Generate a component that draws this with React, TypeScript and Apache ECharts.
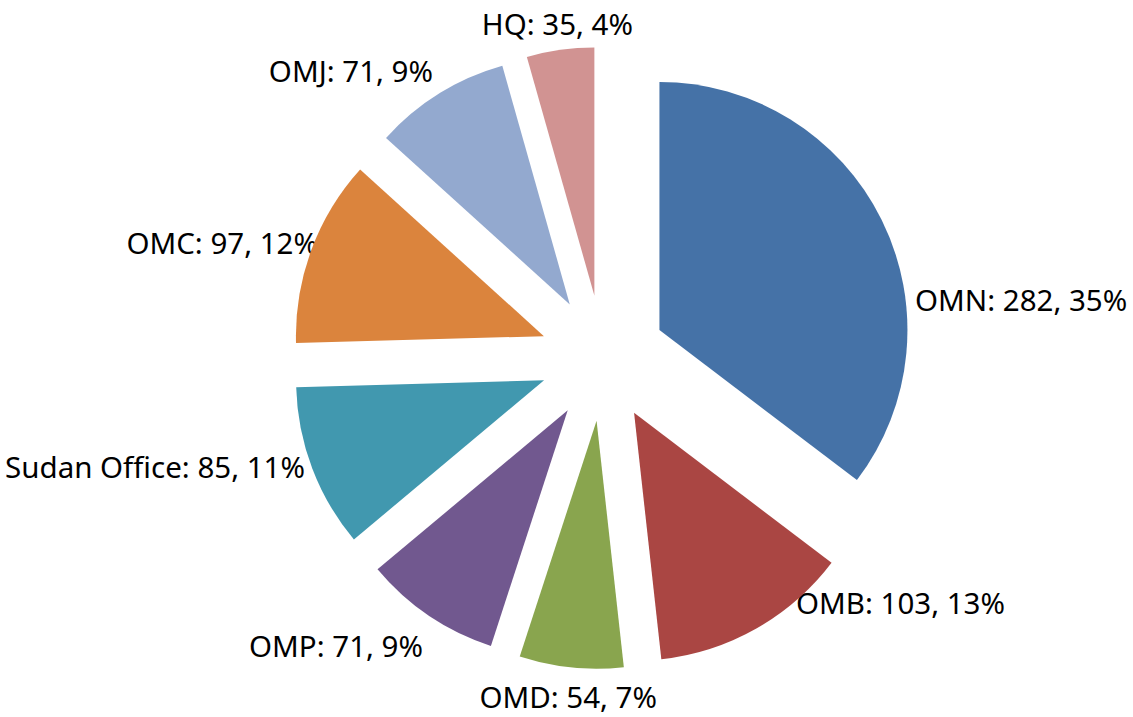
import React, { useEffect, useRef } from "react";
import * as echarts from "echarts";

const categories = ["OMN", "OMB", "OMD", "OMP", "Sudan Office", "OMC", "OMJ", "HQ"];
const values = [282, 103, 54, 71, 85, 97, 71, 35];
const colors = ["#4572A7", "#AA4643", "#89A54E", "#71588F", "#4198AF", "#DB843D", "#93A9CF", "#D19392"];

// label anchor layout (x, y, alignment) in page pixels, mirrors the reference's label placement
const labelAnchors: [number, number, string][] = [
  [915, 299, "left"],
  [796, 602, "left"],
  [657, 696, "right"],
  [423, 645, "right"],
  [305, 466, "right"],
  [318, 242, "right"],
  [433, 70, "right"],
  [633, 23, "right"],
];

export default function App() {
  const ref = useRef<HTMLDivElement>(null);
  useEffect(() => {
    if (!ref.current) return;
    const chart = echarts.init(ref.current, undefined, { renderer: "svg" });
    const common = {
      type: "pie",
      center: [603, 358],
      radius: [0, 248],
      startAngle: 90,
      clockwise: true,
      percentPrecision: 0,
      avoidLabelOverlap: false,
      emphasis: { disabled: true },
      silent: true,
    };
    chart.setOption({
      animation: false,
      backgroundColor: "#ffffff",
      series: [
        {
          ...common,
          z: 1,
          label: {
            show: true,
            position: "outside",
            formatter: "{b}: {c}, {d}%",
            fontFamily: "Noto Sans",
            fontSize: 29.5,
            color: "#000000",
          },
          labelLine: { show: false, length: 4, length2: 0 },
          labelLayout: (params: any) => {
            const a = labelAnchors[params.dataIndex];
            return { x: a[0], y: a[1], align: a[2], verticalAlign: "middle" };
          },
          itemStyle: { color: "rgba(0,0,0,0)" },
          data: categories.map((c, i) => ({ name: c, value: values[i] })),
        },
        {
          ...common,
          z: 2,
          selectedMode: "multiple",
          selectedOffset: 63,
          label: { show: false },
          labelLine: { show: false },
          data: categories.map((c, i) => ({
            name: c,
            value: values[i],
            selected: true,
            itemStyle: { color: colors[i] },
          })),
        },
      ],
    });
    return () => chart.dispose();
  }, []);
  return <div ref={ref} style={{ position: "fixed", left: 0, top: 0, width: 1133, height: 717 }} />;
}
